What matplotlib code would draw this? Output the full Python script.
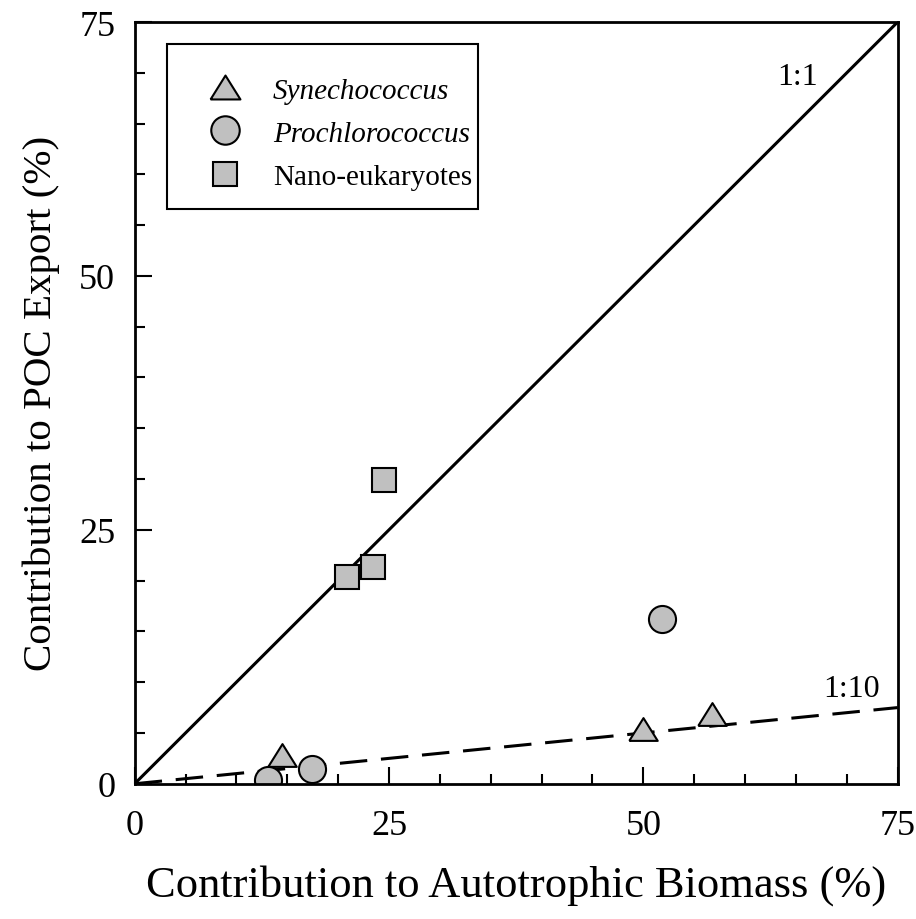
import matplotlib
matplotlib.use('Agg')
import matplotlib.pyplot as plt
from matplotlib.ticker import MultipleLocator
from matplotlib.patches import Rectangle

plt.rcParams['font.family'] = ['Liberation Serif', 'DejaVu Serif']

# Datos
syn_x = [14.5, 50.0, 56.7]
syn_y = [2.8, 5.4, 6.9]
pro_x = [13.1, 17.4, 51.8]
pro_y = [0.4, 1.5, 16.2]
nano_x = [20.9, 23.4, 24.5]
nano_y = [20.4, 21.3, 29.9]

lim = 75
ratio_11 = [0, 75]
ratio_110 = [0, 7.5]

fig = plt.figure(figsize=(9.16, 9.2), dpi=100)
ax = fig.add_axes([0.147, 0.147, 0.833, 0.828])

# Lineas 1:1 y 1:10
ax.plot([0, lim], ratio_11, color='black', linewidth=2.2, zorder=1)
ax.plot([0, lim], ratio_110, color='black', linewidth=2.2, dashes=(9, 4.5), zorder=1)

# triangulo algo achatado como en el original
tri = [(-1, -0.8), (1, -0.8), (0, 0.8), (-1, -0.8)]
gris = '#c0c0c0'
ax.plot(syn_x, syn_y, marker=tri, ms=20.5, mfc=gris, mec='black', mew=1.5, ls='none', label='Synechococcus')
ax.plot(pro_x, pro_y, 'o', ms=19.5, mfc=gris, mec='black', mew=1.5, ls='none', label='Prochlorococcus')
ax.plot(nano_x, nano_y, 's', ms=17, mfc=gris, mec='black', mew=1.5, ls='none', label='Nano-eukaryotes')

ax.text(65.2, 69.6, '1:1', fontsize=23, ha='center', va='center')
ax.text(70.5, 9.4, '1:10', fontsize=23, ha='center', va='center')

ax.set_xlim(0, lim)
ax.set_ylim(0, lim)
ax.xaxis.set_major_locator(MultipleLocator(25))
ax.yaxis.set_major_locator(MultipleLocator(25))
ax.xaxis.set_minor_locator(MultipleLocator(5))
ax.yaxis.set_minor_locator(MultipleLocator(5))
ax.tick_params(which='both', direction='in', top=False, right=False, width=1.5)
ax.tick_params(which='major', length=12, labelsize=26)
ax.tick_params(axis='x', which='major', pad=18)
ax.tick_params(axis='y', which='major', pad=14)
ax.tick_params(which='minor', length=7)
for s in ax.spines.values():
    s.set_linewidth(2)

ax.set_xlabel('Contribution to Autotrophic Biomass (%)', fontsize=32, labelpad=16)
ax.set_ylabel('Contribution to POC Export (%)', fontsize=29.5, labelpad=14)

# caja de la leyenda
ax.add_patch(Rectangle((0.042, 0.7546), 0.4075, 0.2164, transform=ax.transAxes,
                       fill=False, edgecolor='black', linewidth=1.5, zorder=4))
leg = ax.legend(loc='upper left', bbox_to_anchor=(0.080, 0.9275), fontsize=21,
                frameon=False, borderpad=0, handletextpad=0.65, labelspacing=0.57,
                borderaxespad=0, markerscale=1.05, handlelength=2.0)
for t in leg.get_texts()[:2]:
    t.set_style('italic')

plt.savefig('out.png', dpi=100)
plt.close()
